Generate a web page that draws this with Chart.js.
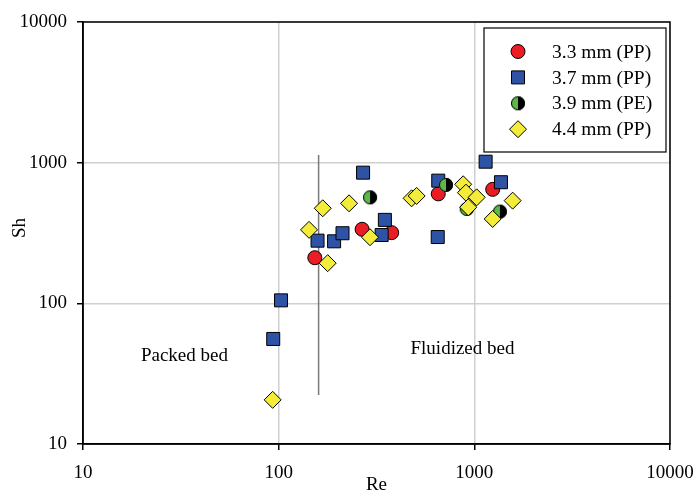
<!DOCTYPE html>
<html lang="en">
<head>
<meta charset="UTF-8">
<title>Sh vs Re</title>
<script src="https://cdn.jsdelivr.net/npm/chart.js"></script>
<style>
  body { margin: 0; background: #fff; }
  canvas { display: block; }
</style>
</head>
<body>
<canvas id="shChart" width="697" height="492"></canvas>
<script>
// series (Re, Sh)
const seriesNames = ['3.3 mm (PP)', '3.7 mm (PP)', '3.9 mm (PE)', '4.4 mm (PP)'];
const re33 = [153, 267, 378, 654, 1241];
const sh33 = [211, 336, 318, 600, 646];
const re37 = [93.8, 102.8, 158, 192, 212, 270, 336, 349, 650, 654, 1142, 1368];
const sh37 = [55.8, 105, 279, 276, 315, 849, 306, 392, 296, 745, 1016, 726];
const re39 = [293, 716, 914, 1351];
const sh39 = [567, 695, 469, 449];
const re44 = [93.2, 143, 168, 178, 229, 293, 478, 507, 877, 906, 1028, 931, 1570, 1241];
const sh44 = [20.6, 333, 474, 193, 514, 295, 558, 580, 702, 612, 567, 482, 537, 398];

const xTicks = [10, 100, 1000, 10000];
const yTicks = [10, 100, 1000, 10000];

// packed / fluidized divider and region labels
const dividerRe = [160, 160];
const dividerSh = [22.3, 1135];
const regionLabels = ['Packed bed', 'Fluidized bed'];
const regionRe = [33, 870];
const regionSh = [42.3, 47.2];

const serif = '"Liberation Serif", "Times New Roman", serif';
const pairs = (xs, ys) => xs.map((v, i) => ({ x: v, y: ys[i] }));

// half green / half black dot for the PE series
function halfDot(r) {
    const c = document.createElement('canvas');
    const s = 2 * r + 2;
    c.width = c.height = s;
    const g = c.getContext('2d');
    const m = s / 2;
    g.fillStyle = '#5cb847';
    g.beginPath(); g.arc(m, m, r, Math.PI / 2, Math.PI * 1.5); g.fill();
    g.fillStyle = '#000';
    g.beginPath(); g.arc(m, m, r, -Math.PI / 2, Math.PI / 2); g.fill();
    g.strokeStyle = '#000'; g.lineWidth = 1;
    g.beginPath(); g.arc(m, m, r - 0.5, 0, Math.PI * 2); g.stroke();
    return c;
}
const peDot = halfDot(7);

const styles = [
    { pointStyle: 'circle', radius: 7, color: '#ec1c24' },
    { pointStyle: 'rect', radius: 9.2, color: '#2e52a4' },
    { pointStyle: peDot, radius: 7, color: '#5cb847' },
    { pointStyle: 'rectRot', radius: 8.5, color: '#f3ec3b' }
];

function drawMarker(ctx, st, x, y) {
    if (typeof st.pointStyle !== 'string') {
        ctx.drawImage(st.pointStyle, x - st.pointStyle.width / 2, y - st.pointStyle.height / 2);
        return;
    }
    ctx.beginPath();
    const r = st.radius;
    if (st.pointStyle === 'circle') {
        ctx.arc(x, y, r, 0, Math.PI * 2);
    } else if (st.pointStyle === 'rect') {
        const h = r * Math.SQRT1_2;
        ctx.rect(x - h, y - h, 2 * h, 2 * h);
    } else {
        ctx.moveTo(x, y - r); ctx.lineTo(x + r, y); ctx.lineTo(x, y + r); ctx.lineTo(x - r, y); ctx.closePath();
    }
    ctx.fillStyle = st.color;
    ctx.fill();
    ctx.strokeStyle = '#000';
    ctx.lineWidth = 1;
    ctx.stroke();
}

const overlay = {
    id: 'overlay',
    afterDraw(chart) {
        const { ctx, chartArea: a, scales: { x, y } } = chart;
        ctx.save();
        ctx.strokeStyle = '#000';
        ctx.lineWidth = 1.5;
        ctx.strokeRect(a.left, a.top, a.right - a.left, a.bottom - a.top);

        ctx.fillStyle = '#000';
        ctx.font = '19px ' + serif;
        ctx.textAlign = 'center';
        ctx.textBaseline = 'middle';
        regionLabels.forEach((t, i) => {
            ctx.fillText(t, x.getPixelForValue(regionRe[i]), y.getPixelForValue(regionSh[i]));
        });

        // axis titles
        ctx.fillText('Re', (a.left + a.right) / 2, 485);
        ctx.save();
        ctx.translate(20, 228);
        ctx.rotate(-Math.PI / 2);
        ctx.fillText('Sh', 0, 0);
        ctx.restore();

        // legend box
        const lx = a.right - 186, ly = a.top + 6;
        ctx.fillStyle = '#fff';
        ctx.fillRect(lx, ly, 182, 124);
        ctx.strokeStyle = '#000';
        ctx.lineWidth = 1.2;
        ctx.strokeRect(lx, ly, 182, 124);
        ctx.textAlign = 'left';
        ctx.font = '19.5px ' + serif;
        seriesNames.forEach((name, i) => {
            const ry = ly + 23.5 + i * 25.9;
            drawMarker(ctx, styles[i], lx + 34, ry);
            ctx.fillStyle = '#000';
            ctx.fillText(name, lx + 68, ry + 1);
        });
        ctx.restore();
    }
};

const dataSets = [[re33, sh33], [re37, sh37], [re39, sh39], [re44, sh44]].map((d, i) => ({
    label: seriesNames[i],
    data: pairs(d[0], d[1]),
    pointStyle: styles[i].pointStyle,
    pointRadius: styles[i].radius,
    backgroundColor: styles[i].color,
    borderColor: '#000',
    borderWidth: 1,
    order: 4 - i
}));

dataSets.push({
    label: 'divider',
    data: pairs(dividerRe, dividerSh),
    showLine: true,
    pointRadius: 0,
    borderColor: '#7a7a7a',
    borderWidth: 1.5,
    order: 5
});

function axis(ticksList, isX) {
    return {
        type: 'logarithmic',
        min: 10,
        max: 10000,
        afterBuildTicks: s => { s.ticks = ticksList.map(v => ({ value: v })); },
        afterFit: s => {
            if (isX) { s.height = 48; s.paddingLeft = 0; s.paddingRight = 0; }
            else { s.width = 83; s.paddingTop = 0; s.paddingBottom = 0; }
        },
        ticks: {
            color: '#000',
            font: { family: serif, size: 19 },
            padding: isX ? 12 : 10,
            maxRotation: 0,
            autoSkip: false,
            callback: v => String(v)
        },
        grid: {
            color: '#cfcfcf',
            lineWidth: 1.5,
            tickColor: '#000',
            tickLength: 6,
            tickWidth: 1.5
        },
        border: { color: '#000', width: 1.5 }
    };
}

new Chart(document.getElementById('shChart'), {
    type: 'scatter',
    data: { datasets: dataSets },
    options: {
        responsive: false,
        animation: false,
        layout: { padding: { top: 22, right: 27, left: 0, bottom: 0 } },
        plugins: { legend: { display: false }, tooltip: { enabled: false } },
        scales: { x: axis(xTicks, true), y: axis(yTicks, false) }
    },
    plugins: [overlay]
});
</script>
</body>
</html>
